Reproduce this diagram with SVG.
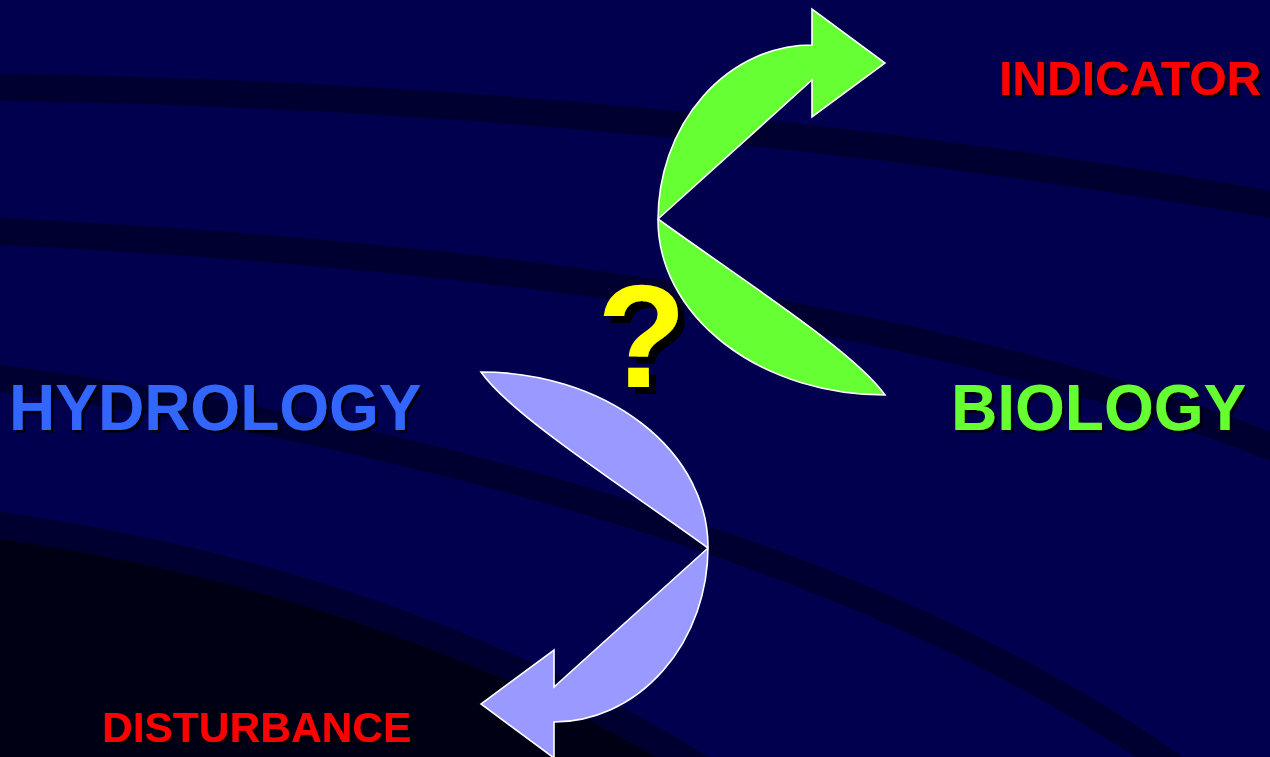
<svg xmlns="http://www.w3.org/2000/svg" width="1270" height="757" viewBox="0 0 1270 757">
  <style>
    .band { fill: none; stroke: #000030; stroke-width: 27; }
    .arrow { stroke: #ffffff; stroke-width: 1.6; stroke-linejoin: miter; }
    .lbl { font-family: "Liberation Sans", Arial, sans-serif; font-weight: bold; }
    .sh3 { filter: url(#shadow3); }
    .sh7 { filter: url(#shadow7); }
  </style>
  <defs>
    <!-- hard black offset shadows for the labels -->
    <filter id="shadow3" x="-5%" y="-20%" width="115%" height="150%">
      <feDropShadow dx="2.5" dy="2.5" stdDeviation="0" flood-color="#000000" flood-opacity="1"/>
    </filter>
    <filter id="shadow7" x="-20%" y="-20%" width="150%" height="150%">
      <feDropShadow dx="7" dy="7" stdDeviation="0" flood-color="#000000" flood-opacity="1"/>
    </filter>
    <!-- curved arrow: two lobes meeting at the inner vertex, head pointing right -->
    <path id="curvedArrow" d="M 658 219 L 812 80 L 812 117 L 885 63 L 812 9 L 812 45 A 154 175 0 0 0 658 220 A 227 175 0 0 0 885 395 C 855 352 745 282 658 219 Z"/>
  </defs>

  <!-- background -->
  <g id="background">
    <rect x="0" y="0" width="1270" height="757" fill="#00004f"/>
    <path d="M -10 524 C 250 560 500 640 720 780 L -10 780 Z" fill="#000015"/>
    <path class="band" d="M -10 87 Q 645 96 1280 206"/>
    <path class="band" d="M -10 231 C 400 250 900 300 1280 450"/>
    <path class="band" d="M -10 377 C 400 430 880 555 1185 775"/>
    <path class="band" d="M -10 524 C 250 560 500 640 720 780"/>
  </g>

  <g id="connectors">
    <use id="arrow-biology" href="#curvedArrow" class="arrow" fill="#66ff33"/>
    <use id="arrow-hydrology" href="#curvedArrow" class="arrow" fill="#9999ff" transform="rotate(180 683 383.5)"/>
  </g>

  <g id="node-indicator" class="lbl sh3" font-size="48">
    <text x="999" y="95" fill="#ff0000">INDICATOR</text>
  </g>

  <g id="node-hydrology" class="lbl sh3" font-size="64">
    <text x="9" y="430" fill="#3366ff">HYDROLOGY</text>
  </g>

  <g id="node-biology" class="lbl sh3" font-size="64">
    <text x="951" y="430" fill="#66ff33">BIOLOGY</text>
  </g>

  <g id="node-disturbance" class="lbl sh3" font-size="42.5">
    <text x="102" y="742" fill="#ff0000">DISTURBANCE</text>
  </g>

  <g id="node-question" class="lbl sh7" font-size="146">
    <text x="597" y="387" fill="#ffff00">?</text>
  </g>
</svg>
